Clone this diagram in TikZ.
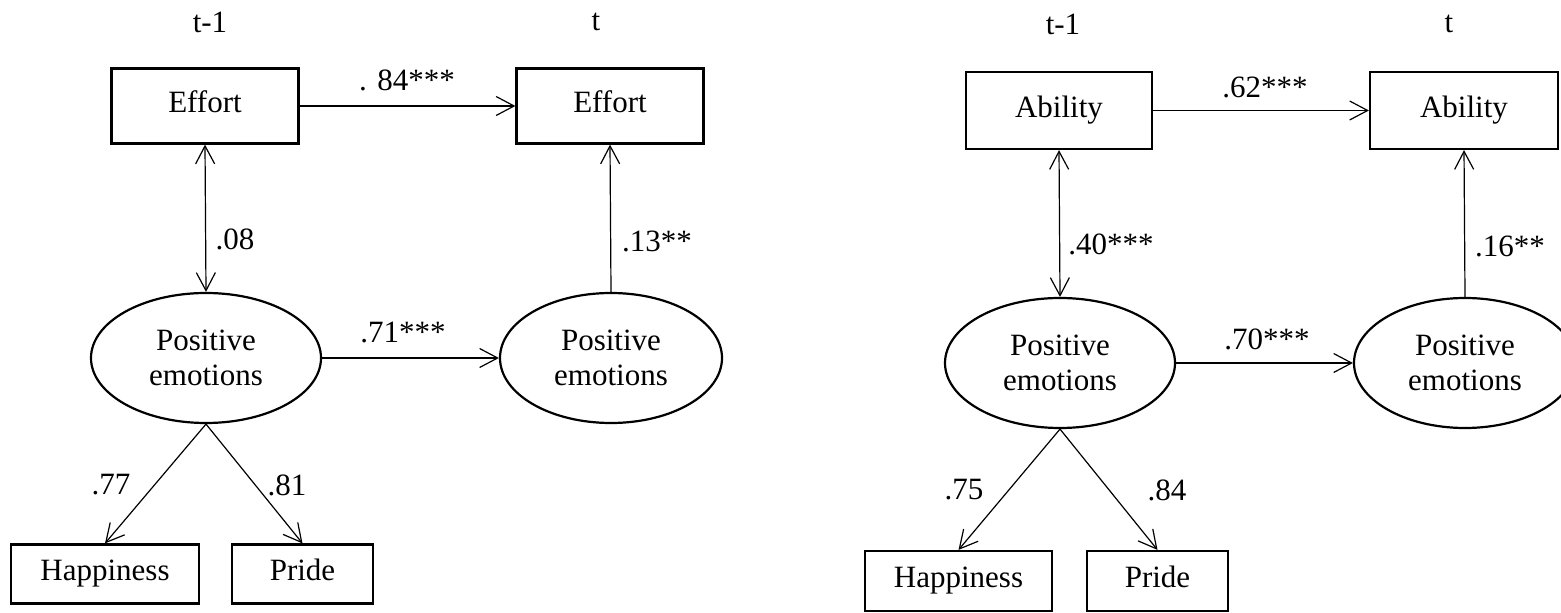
\documentclass[tikz,border=0pt]{standalone}
\usepackage{fontspec}
\setmainfont{Liberation Serif}
\usetikzlibrary{arrows.meta,shapes.geometric}

\tikzset{
    obs/.style={draw, line width=1.1pt, inner sep=0pt, minimum height=29.5pt, text height=0.8em, text depth=0.1em},
    latent/.style={draw, ellipse, line width=1.1pt, inner sep=0pt, align=center, minimum width=115pt, minimum height=65pt},
    link/.style={line width=0.6pt, -{Straight Barb[length=9pt,width=9.5pt]}},
    both/.style={line width=0.6pt, {Straight Barb[length=9pt,width=9.5pt]}-{Straight Barb[length=9pt,width=9.5pt]}},
    coef/.style={inner sep=0pt}
}

\begin{document}
\begin{tikzpicture}[x=0.5pt, y=-0.5pt, font=\fontsize{15.5}{17.5}\selectfont]
            \useasboundingbox (0, 0) rectangle (1561, 613);
            \clip (0, 0) rectangle (1561, 613);

            % effort model
            \node (tprevA) at (210, 22) {t-1};
            \node (tnowA) at (596, 22) {t};
            \node[obs, minimum width=93.5pt, minimum height=37.5pt] (eff1) at (205, 106) {Effort};
            \node[obs, minimum width=93.5pt, minimum height=37.5pt] (eff2) at (610, 106) {Effort};
            \node[latent] (pe1) at (206, 358) {Positive\\emotions};
            \node[latent, minimum width=111pt] (pe2) at (611, 358) {Positive\\emotions};
            \node[obs, minimum width=94pt] (hap1) at (105, 574) {Happiness};
            \node[obs, minimum width=70.5pt] (pri1) at (302.5, 574) {Pride};
            \draw[link] (eff1.east) -- (eff2.west);
            \draw[both] (eff1.south) -- (pe1.north);
            \draw[link] (pe2.north) -- (eff2.south);
            \draw[link] (pe1.east) -- (pe2.west);
            \draw[link] (pe1.south) -- (hap1.north);
            \draw[link] (pe1.south) -- (pri1.north);
            \node[coef] (c1) at (407, 80) {. 84***};
            \node[coef] (c2) at (235, 239) {.08};
            \node[coef] (c3) at (657, 241) {.13**};
            \node[coef] (c4) at (403, 332) {.71***};
            \node[coef] (c5) at (111, 485) {.77};
            \node[coef] (c6) at (287, 485) {.81};

            % ability model
            \node (tprevB) at (1063, 24) {t-1};
            \node (tnowB) at (1449, 24) {t};
            \node[obs, minimum width=93pt, minimum height=38.5pt] (abl1) at (1059, 110.5) {Ability};
            \node[obs, minimum width=94pt, minimum height=38.5pt] (abl2) at (1464, 110.5) {Ability};
            \node[latent] (pe3) at (1060, 363) {Positive\\emotions};
            \node[latent, minimum width=111pt] (pe4) at (1465, 363) {Positive\\emotions};
            \node[obs, minimum width=93.5pt, minimum height=30pt] (hap2) at (958.5, 581) {Happiness};
            \node[obs, minimum width=70.5pt, minimum height=30pt] (pri2) at (1157.5, 581) {Pride};
            \draw[link] (abl1.east) -- (abl2.west);
            \draw[both] (abl1.south) -- (pe3.north);
            \draw[link] (pe4.north) -- (abl2.south);
            \draw[link] (pe3.east) -- (pe4.west);
            \draw[link] (pe3.south) -- (hap2.north);
            \draw[link] (pe3.south) -- (pri2.north);
            \node[coef] (d1) at (1265, 87) {.62***};
            \node[coef] (d2) at (1111, 244) {.40***};
            \node[coef] (d3) at (1510, 246) {.16**};
            \node[coef] (d4) at (1267, 339) {.70***};
            \node[coef] (d5) at (964, 490) {.75};
            \node[coef] (d6) at (1167, 490) {.84};
\end{tikzpicture}
\end{document}
